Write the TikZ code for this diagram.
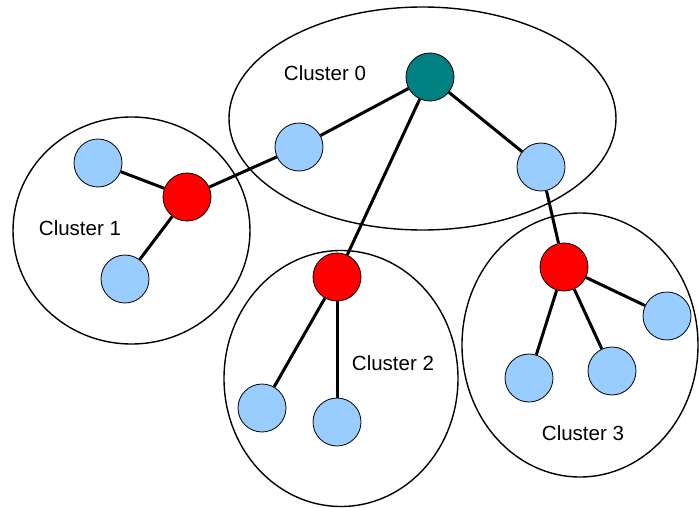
\documentclass[tikz,border=0pt]{standalone}
\usepackage{fontspec}
\setmainfont{Liberation Sans}
\definecolor{leafblue}{HTML}{99CCFF}
\definecolor{rootteal}{HTML}{008080}
\begin{document}
\begin{tikzpicture}[x=1pt,y=-1pt,
  leaf/.style={circle,draw=black,fill=leafblue,minimum size=48pt,inner sep=0pt,line width=0.8pt},
  head/.style={leaf,fill=red},
  root/.style={leaf,fill=rootteal},
  cluster/.style={draw=black,line width=1.4pt},
  link/.style={draw=black,line width=3pt},
  tag/.style={font=\fontsize{20.5}{24}\selectfont}]
\useasboundingbox (0,0) rectangle (699,508);
% clusters
\draw [cluster] (422.5,118.5) ellipse (193.5 and 111.5);
\draw [cluster] (131.5,230.5) ellipse (118.5 and 113.5);
\draw [cluster] (341,378.5) ellipse (117 and 128);
\draw [cluster] (580,345) ellipse (118 and 132);
\node [tag] (t0) at (325,73) {Cluster 0};
\node [tag] (t1) at (80,228) {Cluster 1};
\node [tag] (t2) at (393,363) {Cluster 2};
\node [tag] (t3) at (583,433) {Cluster 3};
% nodes
\node [root] (r) at (430,77) {};
\node [leaf] (a) at (299,147) {};
\node [leaf] (b) at (541,167) {};
\node [head] (h1) at (187,197) {};
\node [leaf] (h1a) at (98,163) {};
\node [leaf] (h1b) at (125,279) {};
\node [head] (h2) at (337,277) {};
\node [leaf] (h2a) at (262,408) {};
\node [leaf] (h2b) at (337,422) {};
\node [head] (h3) at (564,267) {};
\node [leaf] (h3a) at (529,378) {};
\node [leaf] (h3b) at (612,371) {};
\node [leaf] (h3c) at (667,316) {};
% links
\draw [link] (r) -- (a);
\draw [link] (r) -- (h2);
\draw [link] (r) -- (b);
\draw [link] (a) -- (h1);
\draw [link] (b) -- (h3);
\draw [link] (h1) -- (h1a);
\draw [link] (h1) -- (h1b);
\draw [link] (h2) -- (h2a);
\draw [link] (h2) -- (h2b);
\draw [link] (h3) -- (h3a);
\draw [link] (h3) -- (h3b);
\draw [link] (h3) -- (h3c);
\end{tikzpicture}
\end{document}
